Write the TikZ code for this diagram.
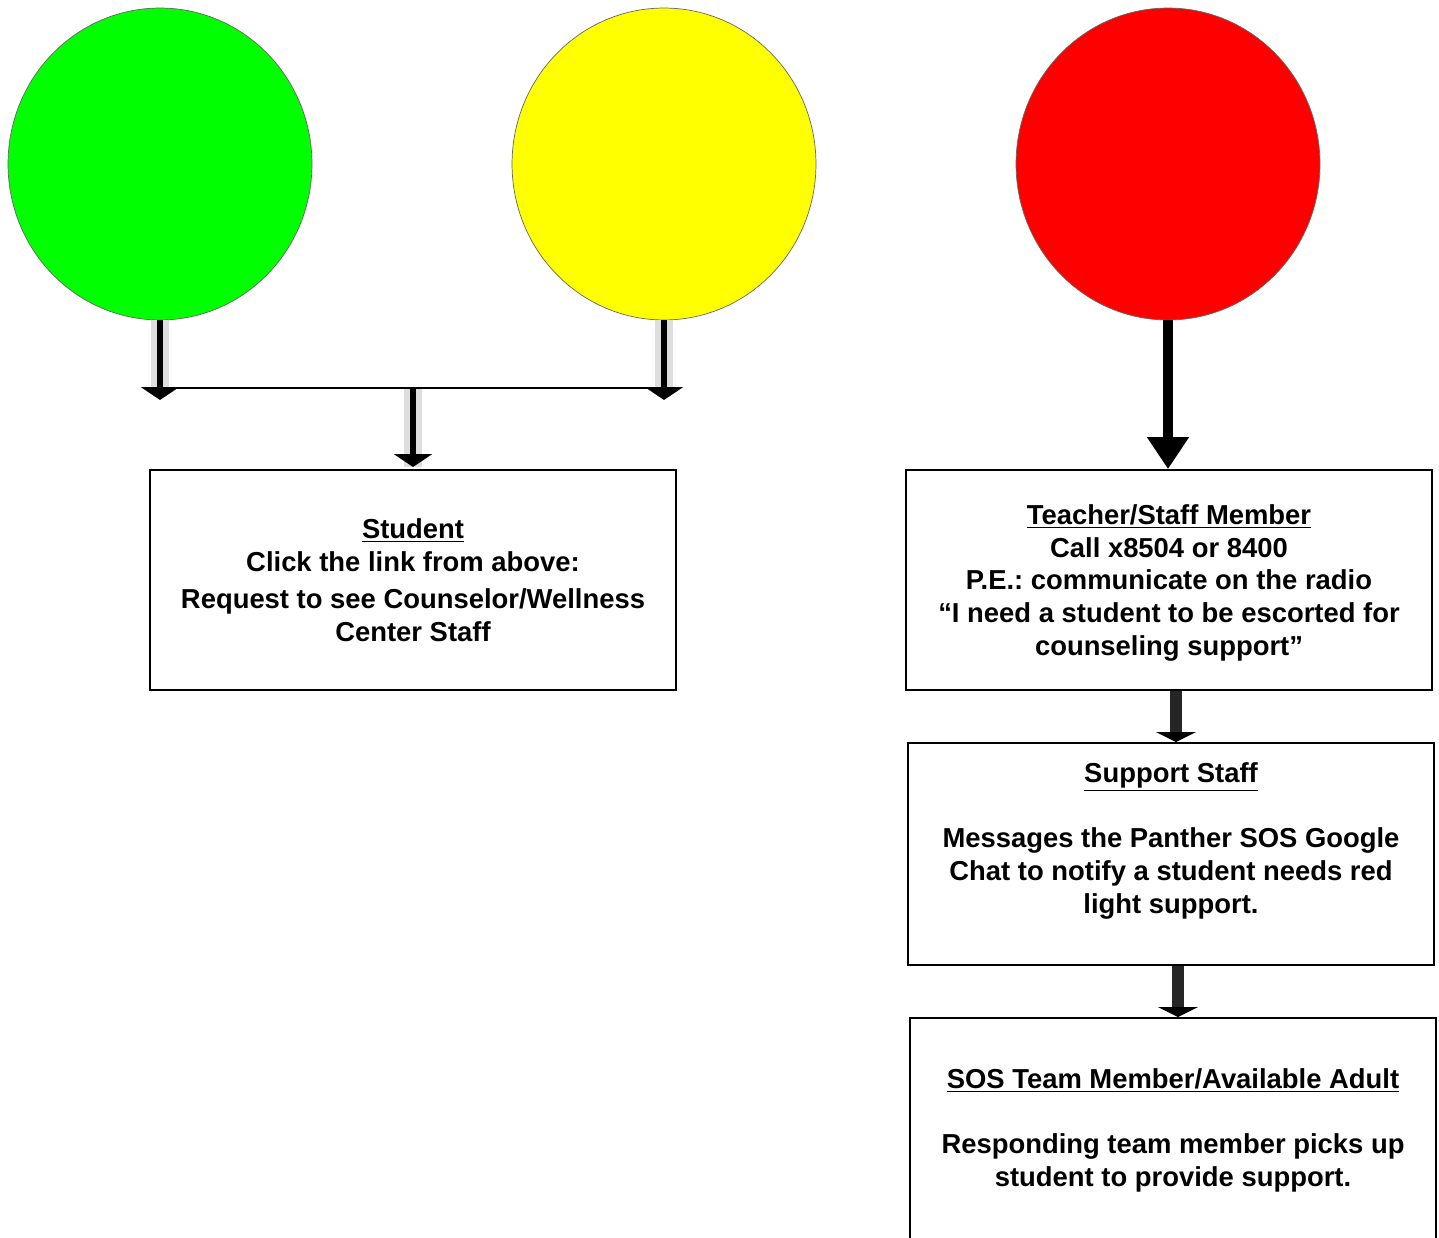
\documentclass[tikz,border=0pt]{standalone}
\usepackage{fontspec}
\setmainfont{Liberation Sans}
\usetikzlibrary{positioning}
\usetikzlibrary{shapes.geometric}
\usetikzlibrary{arrows.meta}
\tikzset{>=stealth}
\definecolor{goGreen}{HTML}{00FF00}
\definecolor{waitYellow}{HTML}{FFFF00}
\definecolor{stopRed}{HTML}{FF0000}

\begin{document}
\frenchspacing
\begin{tikzpicture}
	[x=0.02cm,y=-0.02cm,
	light/.style={ellipse,draw=black!60,line width=0.4pt,minimum width=6.08cm,minimum height=6.24cm,inner sep=0pt},
	stepbox/.style={rectangle,draw=black,line width=1.1pt,minimum width=10.52cm,minimum height=4.4cm,inner sep=0pt},
	txt/.style={inner sep=0pt,align=center,font=\fontsize{15.6}{18.7}\selectfont\bfseries},
	shadow/.style={draw=black!13,line width=10pt},
	thinarrow/.style={line width=3.4pt,-{Triangle[width=0.76cm,length=0.26cm]}},
	bigarrow/.style={line width=5.7pt,-{Triangle[width=0.8cm,length=0.64cm]}},
	linkarrow/.style={draw=black!85,line width=6.8pt,-{Triangle[width=0.8cm,length=0.2cm,color=black]}}]
	\clip (0,0) rectangle (1439,1237);
	% traffic lights
	\node [light,fill=goGreen] (green) at (160,164) {};
	\node [light,fill=waitYellow] (yellow) at (664,164) {};
	\node [light,fill=stopRed] (red) at (1168,164) {};
	% boxes
	\node [stepbox] (student) at (413,580) {};
	\node [stepbox] (teacher) at (1169,580) {};
	\node [stepbox,minimum height=4.44cm] (support) at (1171,854) {};
	\node [stepbox,minimum height=4.44cm] (sos) at (1173,1129) {};
	\node [txt,below=0.98cm of student.north] (studenttxt)
		{\underline{Student}\\Click the link from above:\\[0.1cm]Request to see Counselor/Wellness\\Center Staff};
	\node [txt,below=0.7cm of teacher.north] (teachertxt)
		{\underline{Teacher/Staff Member}\\Call x8504 or 8400\\P.E.: communicate on the radio\\“I need a student to be escorted for\\counseling support”};
	\node [txt,below=0.4cm of support.north] (supporttxt)
		{\underline{Support Staff}\\[18.7pt]Messages the Panther SOS Google\\Chat to notify a student needs red\\light support.};
	\node [txt,below=1.02cm of sos.north] (sostxt)
		{\underline{SOS Team Member/Available Adult}\\[18.7pt]Responding team member picks up\\student to provide support.};
	% green and yellow join
	\coordinate (gend) at (160,400);
	\coordinate (yend) at (664,400);
	\coordinate (gjoin) at (160,388);
	\coordinate (yjoin) at (664,388);
	\coordinate (mjoin) at (413,388);
	\coordinate (mend) at (413,467);
	\draw [shadow] (green.south) -- (gjoin);
	\draw [shadow] (yellow.south) -- (yjoin);
	\draw [shadow] (mjoin) -- (mend);
	\draw [line width=1.7pt] (gjoin) -- (yjoin);
	\draw [thinarrow] (green.south) -- (gend);
	\draw [thinarrow] (yellow.south) -- (yend);
	\draw [thinarrow] (mjoin) -- (mend);
	% red path
	\draw [bigarrow] (red.south) -- (red.south |- teacher.north);
	\draw [linkarrow] (1176,691) -- (1176,742);
	\draw [linkarrow] (1178,966) -- (1178,1017);
\end{tikzpicture}
\end{document}
